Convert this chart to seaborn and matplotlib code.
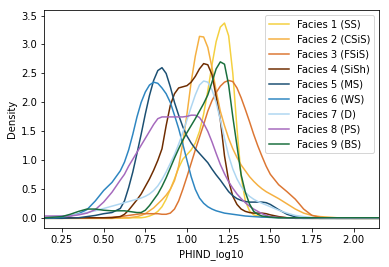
import numpy as np
import pandas as pd
import matplotlib
matplotlib.use("Agg")
import matplotlib.pyplot as plt
import seaborn as sns

x_vals = [0.15, 0.2, 0.25, 0.3, 0.35, 0.4, 0.45, 0.5, 0.55, 0.6,
          0.625, 0.65, 0.675, 0.7, 0.725, 0.75, 0.775, 0.8, 0.825, 0.85,
          0.875, 0.9, 0.925, 0.95, 0.975, 1.0, 1.025, 1.05, 1.075, 1.1,
          1.125, 1.15, 1.175, 1.2, 1.225, 1.25, 1.275, 1.3, 1.325, 1.35,
          1.375, 1.4, 1.425, 1.45, 1.475, 1.5,
          1.55, 1.6, 1.65, 1.7, 1.75, 1.8, 1.85, 1.9, 1.95, 2.0, 2.05, 2.1, 2.15]

facies_labels = ["Facies 1 (SS)", "Facies 2 (CSiS)", "Facies 3 (FSiS)", "Facies 4 (SiSh)",
                 "Facies 5 (MS)", "Facies 6 (WS)", "Facies 7 (D)", "Facies 8 (PS)", "Facies 9 (BS)"]
facies_colors = ["#F4D03F", "#F5B041", "#DC7633", "#6E2C00", "#1B4F72",
                 "#2E86C1", "#AED6F1", "#A569BD", "#196F3D"]

f1 = [0, 0, 0, 0, 0, 0, 0, 0, 0, 0.005,
      0.005, 0.005, 0.01, 0.01, 0.01, 0.02, 0.04, 0.07, 0.12, 0.2,
      0.33, 0.5, 0.68, 0.87, 1.02, 1.1, 1.18, 1.3, 1.5, 1.8,
      2.2, 2.65, 3.05, 3.3, 3.37, 3.15, 2.5, 1.55, 0.72, 0.3,
      0.13, 0.06, 0.04, 0.03, 0.02, 0.02,
      0.015, 0.01, 0.01, 0.005, 0, 0, 0, 0, 0, 0, 0, 0, 0]
f2 = [0, 0, 0, 0, 0, 0, 0, 0, 0, 0.005,
      0.01, 0.01, 0.02, 0.03, 0.05, 0.08, 0.13, 0.18, 0.25, 0.32,
      0.4, 0.5, 0.65, 0.9, 1.3, 1.8, 2.35, 2.8, 3.14, 3.13,
      2.95, 2.6, 2.2, 1.85, 1.6, 1.38, 1.2, 1.05, 0.92, 0.82,
      0.72, 0.64, 0.57, 0.51, 0.46, 0.42,
      0.34, 0.25, 0.16, 0.09, 0.05, 0.03, 0.02, 0.01, 0.005, 0, 0, 0, 0]
f3 = [0.01, 0.01, 0.01, 0.01, 0.01, 0.01, 0.01, 0.01, 0.02, 0.03,
      0.04, 0.05, 0.06, 0.07, 0.08, 0.08, 0.08, 0.08, 0.08, 0.07,
      0.07, 0.09, 0.16, 0.3, 0.5, 0.72, 0.95, 1.18, 1.4, 1.62,
      1.85, 2.03, 2.17, 2.28, 2.35, 2.38, 2.36, 2.25, 2.08, 1.88,
      1.67, 1.45, 1.25, 1.07, 0.9, 0.76,
      0.58, 0.46, 0.33, 0.16, 0.05, 0.015, 0.005, 0, 0, 0, 0, 0, 0]
f4 = [0.01, 0.01, 0.01, 0.01, 0.01, 0.01, 0.01, 0.01, 0.01, 0.03,
      0.07, 0.14, 0.23, 0.32, 0.42, 0.55, 0.68, 0.83, 1.0, 1.2,
      1.6, 1.95, 2.15, 2.25, 2.27, 2.29, 2.35, 2.45, 2.58, 2.67,
      2.65, 2.48, 2.1, 1.7, 1.08, 0.65, 0.38, 0.24, 0.16, 0.12,
      0.1, 0.09, 0.09, 0.09, 0.08, 0.06,
      0.03, 0.01, 0, 0, 0, 0, 0, 0, 0, 0, 0, 0, 0]
f5 = [0, 0, 0, 0.005, 0.01, 0.03, 0.05, 0.08, 0.1, 0.17,
      0.3, 0.53, 0.8, 1.12, 1.45, 1.8, 2.12, 2.38, 2.55, 2.6,
      2.5, 2.27, 2.0, 1.78, 1.58, 1.42, 1.3, 1.2, 1.12, 1.04,
      0.96, 0.85, 0.75, 0.66, 0.56, 0.46, 0.39, 0.34, 0.31, 0.29,
      0.28, 0.28, 0.28, 0.28, 0.27, 0.24,
      0.15, 0.07, 0.025, 0.01, 0.005, 0, 0, 0, 0, 0, 0, 0, 0]
f6 = [0.01, 0.01, 0.02, 0.04, 0.08, 0.15, 0.3, 0.48, 0.62, 0.82,
      0.97, 1.18, 1.45, 1.75, 2.0, 2.18, 2.3, 2.35, 2.33, 2.25,
      2.15, 2.0, 1.78, 1.55, 1.28, 1.0, 0.72, 0.5, 0.35, 0.26,
      0.2, 0.16, 0.13, 0.11, 0.09, 0.08, 0.07, 0.06, 0.05, 0.04,
      0.035, 0.03, 0.025, 0.02, 0.02, 0.015,
      0.01, 0.01, 0.005, 0, 0, 0, 0, 0, 0, 0, 0, 0, 0]
f7 = [0.02, 0.03, 0.04, 0.05, 0.07, 0.1, 0.13, 0.17, 0.21, 0.25,
      0.27, 0.29, 0.31, 0.33, 0.35, 0.38, 0.42, 0.48, 0.56, 0.67,
      0.8, 0.95, 1.1, 1.28, 1.48, 1.7, 1.92, 2.13, 2.3, 2.37,
      2.35, 2.22, 2.0, 1.7, 1.38, 1.08, 0.85, 0.68, 0.55, 0.45,
      0.38, 0.33, 0.29, 0.26, 0.23, 0.2,
      0.14, 0.09, 0.05, 0.03, 0.015, 0.005, 0, 0, 0, 0, 0, 0, 0]
f8 = [0.04, 0.04, 0.04, 0.04, 0.06, 0.09, 0.15, 0.28, 0.45, 0.66,
      0.76, 0.9, 1.02, 1.14, 1.26, 1.38, 1.5, 1.62, 1.72, 1.75,
      1.75, 1.75, 1.75, 1.75, 1.75, 1.76, 1.78, 1.78, 1.74, 1.64,
      1.5, 1.32, 1.12, 0.93, 0.77, 0.63, 0.52, 0.42, 0.34, 0.27,
      0.21, 0.16, 0.12, 0.08, 0.05, 0.03,
      0.015, 0.01, 0.01, 0.01, 0.01, 0.01, 0.01, 0.01, 0.01, 0.01, 0.01, 0.01, 0.01]
f9 = [0.01, 0.02, 0.03, 0.07, 0.12, 0.16, 0.16, 0.14, 0.13, 0.13,
      0.13, 0.12, 0.11, 0.1, 0.1, 0.14, 0.22, 0.32, 0.42, 0.55,
      0.7, 0.87, 1.04, 1.2, 1.35, 1.48, 1.6, 1.72, 1.85, 1.98,
      2.13, 2.35, 2.58, 2.7, 2.66, 2.3, 1.75, 1.25, 0.75, 0.45,
      0.25, 0.12, 0.07, 0.04, 0.03, 0.02,
      0.01, 0.01, 0.01, 0.01, 0.01, 0.01, 0.01, 0.01, 0.01, 0.01, 0.01, 0.01, 0.01]

series = [f1, f2, f3, f4, f5, f6, f7, f8, f9]

rows = []
for lab, vals in zip(facies_labels, series):
    for xv, yv in zip(x_vals, vals):
        rows.append((lab, xv, yv))
df = pd.DataFrame(rows, columns=["Facies", "PHIND_log10", "Density"])

plt.rcParams["font.family"] = ["DejaVu Sans"]
plt.rcParams["font.size"] = 10

fig = plt.figure(figsize=(389 / 72, 267 / 72), dpi=72)
ax = fig.add_axes([44.3 / 389, 1 - 228.3 / 267, (379 - 44.3) / 389, (228.3 - 10.3) / 267])

sns.lineplot(data=df, x="PHIND_log10", y="Density", hue="Facies",
             hue_order=facies_labels, palette=facies_colors,
             linewidth=1.5, ax=ax, sort=True, estimator=None)

ax.set_xlim(0.144, 2.152)
ax.set_ylim(-0.172, 3.59)
ax.set_xticks([0.25, 0.5, 0.75, 1.0, 1.25, 1.5, 1.75, 2.0])
ax.set_xticklabels(["0.25", "0.50", "0.75", "1.00", "1.25", "1.50", "1.75", "2.00"])
ax.set_yticks([0.0, 0.5, 1.0, 1.5, 2.0, 2.5, 3.0, 3.5])
ax.set_xlabel("PHIND_log10")
ax.set_ylabel("Density")

handles, labels = ax.get_legend_handles_labels()
ax.legend(handles, labels, loc="upper right")

fig.savefig("out.png", dpi=72)
